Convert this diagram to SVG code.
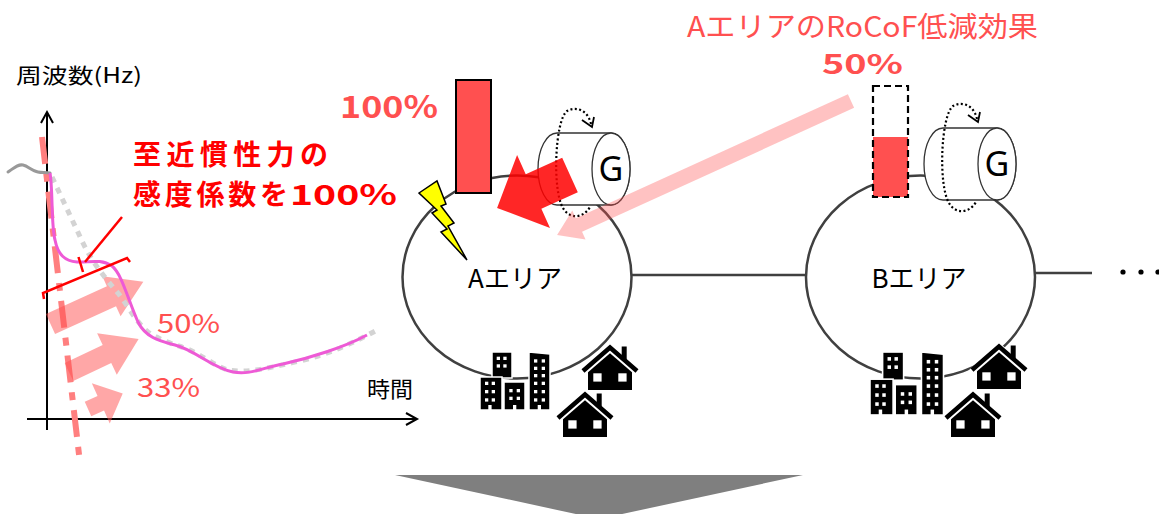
<svg xmlns="http://www.w3.org/2000/svg" xmlns:xlink="http://www.w3.org/1999/xlink" width="1159" height="514" viewBox="0 0 1159 514">
  <style>
    .jp { font-family: "Noto Sans CJK JP", "Noto Sans", sans-serif; }
    .axis { stroke: #000; stroke-width: 2; fill: none; }
    .salmon { fill: #ff5050; }
    .area { fill: none; stroke: #404040; stroke-width: 2.5; }
    .link { stroke: #404040; stroke-width: 2.5; }
    .softarrow { fill: #ff5050; fill-opacity: 0.5; }
    .cyl { fill: #fff; stroke: #333; stroke-width: 1.3; }
    .spin { fill: none; stroke: #000; stroke-width: 2.2; stroke-dasharray: 2 2.4; }
    .bld { fill: #000; stroke: #fff; stroke-width: 1.5; }
    .win { fill: #fff; }
    .note { font-size: 28px; font-weight: bold; fill: #ff0000; }
  </style>
  <defs>
    <!-- generator: cylinder with G and a dotted rotation loop -->
    <g id="generator">
      <path class="cyl" d="M557,133 H611 A19,36 0 0 1 611,205 H557 A19,36 0 0 1 557,133 Z"/>
      <ellipse class="cyl" cx="611" cy="169" rx="19" ry="36"/>
      <text x="611" y="181" text-anchor="middle" font-family="'Noto Sans', 'Liberation Sans', sans-serif" font-size="34" fill="#000">G</text>
      <path class="spin" d="M591,124 C588,110 576,106 567,111 C555,120 552,190 563,208 C569,219 583,219 590,207"/>
      <polyline points="582,120 592,127 594,117" fill="none" stroke="#000" stroke-width="1.8"/>
    </g>
    <!-- house icon, origin at roof peak -->
    <g id="house">
      <polygon points="-31,27 0,-2 31,27 24,27 24,47 -24,47 -24,27" fill="#fff"/>
      <polyline points="-27,26 0,2.5 27,26" fill="none" stroke="#000" stroke-width="4.5"/>
      <rect x="11.7" y="1.5" width="5" height="13" fill="#000"/>
      <polygon points="-22,45 -22,27.3 0,8.2 22,27.3 22,45" fill="#000"/>
      <rect class="win" x="-16.7" y="28.3" width="8.3" height="8.3"/>
      <rect class="win" x="8.3" y="28.3" width="8.3" height="8.3"/>
    </g>
    <!-- block of buildings, origin at top-left -->
    <g id="buildings">
      <rect class="bld" x="12" y="0" width="20" height="26"/>
      <rect class="win" x="16.7" y="4.7" width="3.3" height="3.3"/>
      <rect class="win" x="23.3" y="4.7" width="3.3" height="3.3"/>
      <rect class="win" x="16.7" y="12.3" width="3.3" height="3.3"/>
      <rect class="win" x="23.3" y="12.3" width="3.3" height="3.3"/>
      <rect class="bld" x="0" y="25" width="22" height="33"/>
      <rect class="win" x="5" y="29.7" width="3.3" height="3.3"/>
      <rect class="win" x="11.7" y="29.7" width="3.3" height="3.3"/>
      <rect class="win" x="5" y="38" width="3.3" height="3.3"/>
      <rect class="win" x="11.7" y="38" width="3.3" height="3.3"/>
      <rect class="win" x="5" y="46.3" width="3.3" height="3.3"/>
      <rect class="win" x="11.7" y="46.3" width="3.3" height="3.3"/>
      <rect class="win" x="8.3" y="53" width="3.3" height="6"/>
      <rect class="bld" x="24" y="30" width="21" height="28"/>
      <rect class="win" x="29.3" y="37" width="3.3" height="3.3"/>
      <rect class="win" x="36.7" y="37" width="3.3" height="3.3"/>
      <rect class="win" x="29.3" y="44.7" width="3.3" height="3.3"/>
      <rect class="win" x="36.7" y="44.7" width="3.3" height="3.3"/>
      <rect class="win" x="33" y="53" width="3.3" height="6"/>
      <polygon class="bld" points="49,0 70,2 70,58 49,58"/>
      <rect class="win" x="54" y="7.3" width="3.3" height="3.3"/>
      <rect class="win" x="61.7" y="7.3" width="3.3" height="3.3"/>
      <rect class="win" x="54" y="14.7" width="3.3" height="3.3"/>
      <rect class="win" x="61.7" y="14.7" width="3.3" height="3.3"/>
      <rect class="win" x="54" y="22" width="3.3" height="3.3"/>
      <rect class="win" x="61.7" y="22" width="3.3" height="3.3"/>
      <rect class="win" x="54" y="29.7" width="3.3" height="3.3"/>
      <rect class="win" x="61.7" y="29.7" width="3.3" height="3.3"/>
      <rect class="win" x="54" y="38" width="3.3" height="3.3"/>
      <rect class="win" x="61.7" y="38" width="3.3" height="3.3"/>
      <rect class="win" x="54" y="46.3" width="3.3" height="3.3"/>
      <rect class="win" x="61.7" y="46.3" width="3.3" height="3.3"/>
      <rect class="win" x="57.7" y="53" width="3.3" height="6"/>
    </g>
  </defs>

  <rect width="1159" height="514" fill="#fff"/>

  <!-- frequency chart -->
  <g id="chart">
    <text class="jp" x="16" y="83" font-size="21" fill="#000" textLength="126" lengthAdjust="spacingAndGlyphs">周波数(Hz)</text>
    <line class="axis" x1="47" y1="430" x2="47" y2="113"/>
    <polyline class="axis" points="41,123 47,112 53,123"/>
    <line class="axis" x1="27" y1="419" x2="416" y2="419"/>
    <polyline class="axis" points="406,413 417,419 406,425"/>
    <text class="jp" x="367" y="397" font-size="22" fill="#000" textLength="46" lengthAdjust="spacingAndGlyphs">時間</text>

    <path d="M42,137 L80,463" fill="none" stroke="#ff7f7f" stroke-width="6" stroke-dasharray="27 10 8 10"/>

    <path class="softarrow" d="M0,-11 H67 V-22 L102,0 L67,22 V11 H0 Z" transform="translate(50.5,324) rotate(-24.5)"/>
    <path class="softarrow" d="M0,-10 H42 V-23 L77,0 L42,23 V10 H0 Z" transform="translate(69,372) rotate(-25.3)"/>
    <path class="softarrow" d="M0,-8 H14 V-22 L38,0 L14,22 V8 H0 Z" transform="translate(88,409) rotate(-24)"/>

    <path d="M8,172 C14,168 18,164 23,165 C28,166 32,171 38,172 C42,173 46,172 50,173" fill="none" stroke="#999" stroke-width="3" stroke-linecap="round"/>
    <path d="M52,177 L83,243 C92,262 105,278 118,293 C128,306 136,322 148,332 C160,340 172,344 182,347 C200,353 214,366 228,370 C250,374 275,366 300,361 C330,354 355,342 377,330" fill="none" stroke="#d3d3d3" stroke-width="5" stroke-dasharray="6 6"/>
    <path d="M50,173 C53,190 51,225 55,240 C58,255 65,261 77,262 C88,263 100,258 112,266 C122,274 128,300 138,322 C146,338 160,341 175,345 C195,350 212,368 233,372 C250,375 262,368 283,364 C310,358 345,347 367,335" fill="none" stroke="#ee5ad6" stroke-width="3"/>

    <!-- sensitivity bracket -->
    <g fill="none" stroke="#ff0000" stroke-width="2.5">
      <polyline points="44,299 43,293 127,258 130,262"/>
      <line x1="83" y1="272" x2="78.5" y2="257"/>
      <line x1="85" y1="262" x2="122" y2="217"/>
    </g>

    <text class="jp salmon" x="157" y="333" font-size="26" textLength="63" lengthAdjust="spacingAndGlyphs">50%</text>
    <text class="jp salmon" x="137" y="397" font-size="26" textLength="63" lengthAdjust="spacingAndGlyphs">33%</text>

    <text class="jp note" x="133" y="165" textLength="195" lengthAdjust="spacing">至近慣性力の</text>
    <text class="jp note" x="133" y="205" textLength="155" lengthAdjust="spacing">感度係数を</text>
    <text class="jp note" x="290" y="205" font-size="29" textLength="107" lengthAdjust="spacingAndGlyphs">100%</text>
  </g>

  <!-- connectors between areas -->
  <g id="connectors">
    <line class="link" x1="632" y1="275" x2="806" y2="275"/>
    <line class="link" x1="1035" y1="273" x2="1092" y2="273"/>
    <circle cx="1123" cy="272" r="2.6" fill="#000"/>
    <circle cx="1141" cy="272" r="2.6" fill="#000"/>
    <circle cx="1158" cy="272" r="2.6" fill="#000"/>
  </g>

  <!-- area A -->
  <g id="area-a">
    <ellipse class="area" cx="517" cy="277" rx="114.5" ry="101.5"/>
    <text class="jp" x="515" y="288" font-size="26" text-anchor="middle" fill="#000">Aエリア</text>
    <use xlink:href="#buildings" transform="translate(480,352)"/>
    <use xlink:href="#house" transform="translate(610,345)"/>
    <use xlink:href="#house" transform="translate(585,392)"/>
  </g>

  <!-- area B -->
  <g id="area-b">
    <ellipse class="area" cx="920.5" cy="277" rx="114.5" ry="101.5"/>
    <text class="jp" x="919" y="288" font-size="26" text-anchor="middle" fill="#000">Bエリア</text>
    <use xlink:href="#buildings" transform="translate(870,352) scale(1.05,1.086)"/>
    <use xlink:href="#house" transform="translate(999,344)"/>
    <use xlink:href="#house" transform="translate(973,392)"/>
  </g>

  <!-- area A inertia bar and fault -->
  <g id="bar-a">
    <text class="jp salmon" x="340" y="118" font-size="31" font-weight="bold" textLength="98" lengthAdjust="spacingAndGlyphs">100%</text>
    <rect x="456" y="80" width="35" height="113" fill="#ff5050" stroke="#000" stroke-width="2"/>
  </g>
  <g id="fault-a">
    <polygon points="419,193 437,181 446,204 441,206 454,223 448,226 467,260 441,232 447,229 432,213 437,210" fill="#ffff00" stroke="#000" stroke-width="1.5" stroke-linejoin="miter"/>
  </g>

  <g id="gen-a">
    <use xlink:href="#generator"/>
  </g>

  <!-- area B inertia bar -->
  <g id="bar-b">
    <rect x="873" y="137" width="35" height="60" fill="#ff5050"/>
    <rect x="873" y="86" width="35" height="111" fill="none" stroke="#000" stroke-width="2.2" stroke-dasharray="7 4"/>
  </g>
  <g id="gen-b">
    <use xlink:href="#generator" transform="translate(386,-5)"/>
  </g>

  <!-- inertia response arrow in area A -->
  <g id="response-arrow">
    <path d="M0,-19 H40 V-40 L80,0 L40,40 V19 H0 Z" fill="#ff0000" fill-opacity="0.85" transform="translate(570,175) rotate(155.7)"/>
  </g>

  <!-- RoCoF reduction label -->
  <g id="rocof-label">
    <text class="jp salmon" x="687" y="37" font-size="28" textLength="351" lengthAdjust="spacingAndGlyphs">AエリアのRoCoF低減効果</text>
    <text class="jp salmon" x="822" y="74" font-size="27" font-weight="bold" textLength="81" lengthAdjust="spacingAndGlyphs">50%</text>
    <path d="M0,-7.5 H299 V-16 L323,0 L299,16 V7.5 H0 Z" fill="#ff5050" fill-opacity="0.35" transform="translate(851,101) rotate(155.5)"/>
  </g>

  <!-- transition arrow -->
  <g id="down-arrow">
    <polygon points="395,475 803,475 599,519" fill="#7f7f7f"/>
  </g>
</svg>
